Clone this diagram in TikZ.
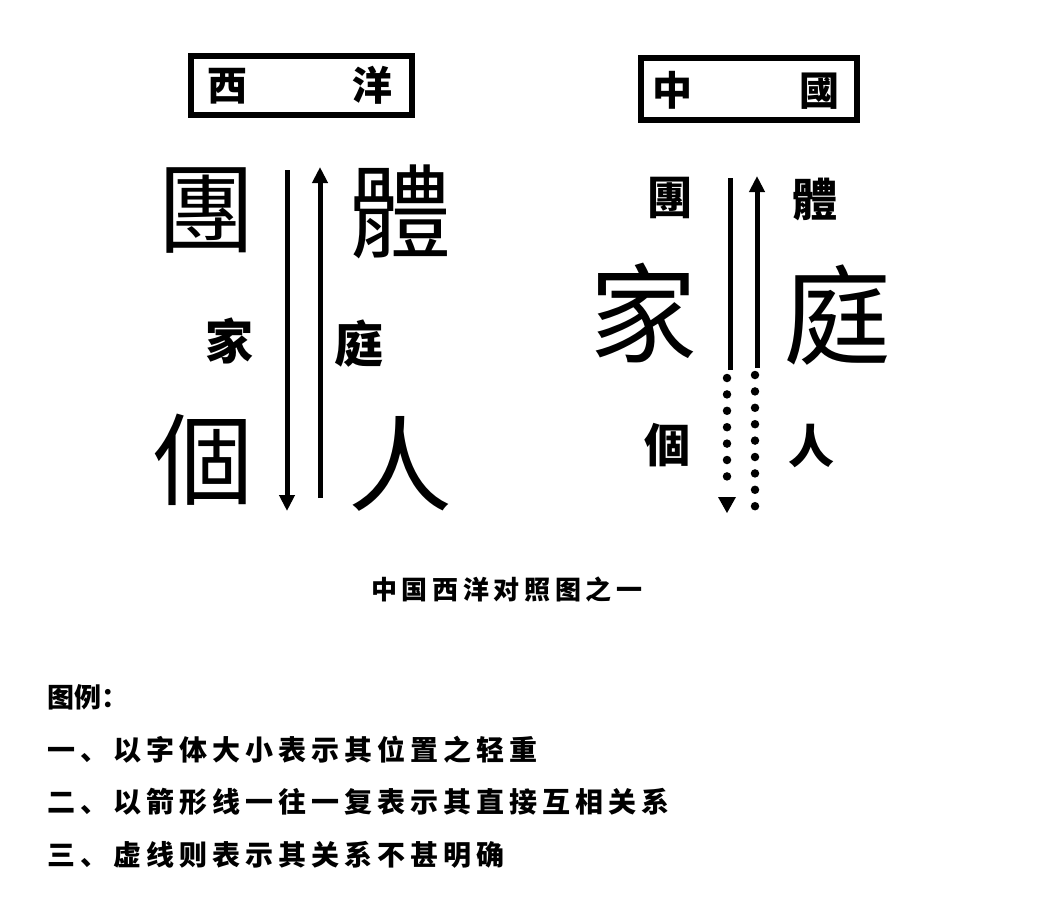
\documentclass[tikz,border=0pt]{standalone}
\usepackage{fontspec}
\usetikzlibrary{arrows.meta}
\newfontfamily\tcfont{Noto Sans CJK TC}
\newfontfamily\scfont{Noto Sans CJK SC}
\newfontfamily\capfont{Noto Sans CJK SC}[LetterSpace=18]
\newfontfamily\legfont{Noto Sans CJK SC}[LetterSpace=18]
\tikzset{
  ch/.style={inner sep=0pt, text height=#1*0.88pt, text depth=#1*0.12pt},
  bigch/.style={ch=#1, font=\tcfont\fontsize{#1}{#1}\selectfont},
  smallch/.style={ch=#1, font=\tcfont\bfseries\fontsize{#1}{#1}\selectfont},
  titlebox/.style={draw, line width=6pt},
  solidarrow/.style={line width=5pt, -{Triangle[length=16pt,width=15pt]}},
  solidline/.style={line width=5pt},
  dotline/.style={line width=8.5pt, line cap=round, dash pattern=on 0pt off 16.4pt},
  legend/.style={anchor=west, ch=28, font=\legfont\bfseries\fontsize{28}{28}\selectfont},
}
\begin{document}
\begin{tikzpicture}[x=1pt,y=-1pt]
\useasboundingbox (0,0) rectangle (1058,900);
\fill[white] (0,0) rectangle (1058,900);

% title boxes
\draw[titlebox] (191,56) rectangle (412,115);
\node[smallch=40] (xi) at (227,85) {西};
\node[smallch=40] (yang) at (372,85) {洋};
\draw[titlebox] (641,58) rectangle (857,120);
\node[smallch=40] (zhong) at (672,90) {中};
\node[smallch=40] (guo) at (819,90) {國};

% West
\node[bigch=98] (wtuan) at (206,208) {團};
\node[bigch=102] (wti) at (400,212) {體};
\node[smallch=48] (wjia) at (229,341) {家};
\node[smallch=49] (wting) at (359,344) {庭};
\node[bigch=100] (wge) at (203,459) {個};
\node[bigch=104] (wren) at (400,464) {人};
\coordinate (wdtop) at (287,170);
\coordinate (wdbot) at (287,511);
\coordinate (wubot) at (320,498);
\coordinate (wutop) at (320,167);
\draw[solidarrow] (wdtop) -- (wdbot);
\draw[solidarrow] (wubot) -- (wutop);

% China
\node[smallch=45] (ctuan) at (670,197) {團};
\node[smallch=45] (cti) at (815,199) {體};
\node[bigch=108] (cjia) at (643,313) {家};
\node[bigch=108] (cting) at (837,315) {庭};
\node[smallch=46] (cge) at (667,445) {個};
\node[smallch=46] (cren) at (811,446) {人};
\coordinate (cdtop) at (730,178);
\coordinate (cdmid) at (730,370);
\coordinate (cddot) at (727,378);
\coordinate (cdbot) at (727,513);
\coordinate (cumid) at (757,368);
\coordinate (cutop) at (757,176);
\coordinate (cudot) at (755,375);
\coordinate (cubot) at (755,508);
\draw[solidline] (cdtop) -- (cdmid);
\draw[dotline] (cddot) -- (727,492);
\fill (cdbot) -- (718,497) -- (736,497) -- cycle;
\draw[solidarrow] (cumid) -- (cutop);
\draw[dotline] (cudot) -- (cubot);

% caption
\node[anchor=west, ch=26, font=\capfont\bfseries\fontsize{26}{26}\selectfont] (cap) at (371,590) {中国西洋对照图之一};

% legend
\node[anchor=west, ch=27, font=\scfont\bfseries\fontsize{27}{27}\selectfont] (tuli) at (47,697) {图例：};
\node[legend] (l1) at (47,750) {一、以字体大小表示其位置之轻重};
\node[legend] (l2) at (47,802) {二、以箭形线一往一复表示其直接互相关系};
\node[legend] (l3) at (47,855) {三、虚线则表示其关系不甚明确};
\end{tikzpicture}
\end{document}
